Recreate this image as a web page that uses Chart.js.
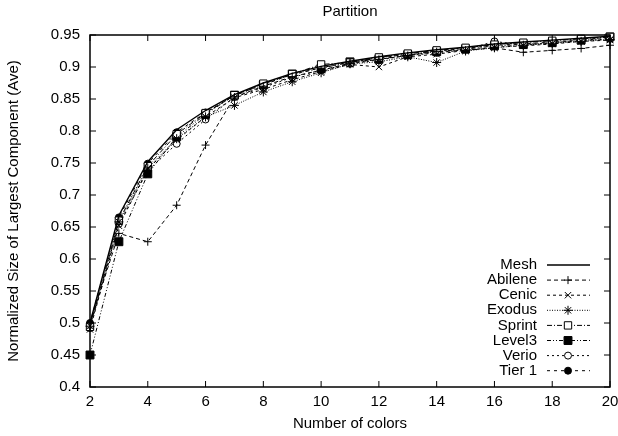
<!DOCTYPE html>
<html>
<head>
<meta charset="utf-8">
<title>Partition</title>
<script src="https://cdn.jsdelivr.net/npm/chart.js@4"></script>
<style>
  html, body { margin: 0; padding: 0; background: #fff; }
</style>
</head>
<body>
<canvas id="canvas" width="618" height="436"></canvas>
<script>
// number of colors on the x axis
const colors = [2, 3, 4, 5, 6, 7, 8, 9, 10, 11, 12, 13, 14, 15, 16, 17, 18, 19, 20];

const mesh    = [0.500, 0.668, 0.752, 0.802, 0.832, 0.857, 0.875, 0.890, 0.901, 0.909, 0.916, 0.922, 0.927, 0.931, 0.936, 0.939, 0.942, 0.945, 0.948];
const abilene = [0.500, 0.640, 0.627, 0.684, 0.778, 0.853, 0.870, 0.885, 0.895, 0.906, 0.912, 0.918, 0.924, 0.926, 0.930, 0.923, 0.926, 0.929, 0.934];
const cenic   = [0.490, 0.652, 0.740, 0.786, 0.822, 0.852, 0.865, 0.880, 0.893, 0.904, 0.900, 0.916, 0.920, 0.926, 0.931, 0.933, 0.936, 0.940, 0.942];
const exodus  = [0.495, 0.658, 0.742, 0.788, 0.822, 0.840, 0.861, 0.877, 0.891, 0.905, 0.908, 0.916, 0.907, 0.925, 0.930, 0.934, 0.937, 0.940, 0.943];
const sprint  = [0.494, 0.660, 0.745, 0.795, 0.828, 0.856, 0.874, 0.889, 0.904, 0.907, 0.915, 0.921, 0.926, 0.930, 0.935, 0.938, 0.941, 0.944, 0.947];
const level3  = [0.450, 0.627, 0.733, 0.791, 0.826, 0.856, 0.872, 0.889, 0.898, 0.908, 0.912, 0.919, 0.924, 0.928, 0.933, 0.935, 0.938, 0.942, 0.947];
const verio   = [0.492, 0.655, 0.738, 0.780, 0.818, 0.853, 0.868, 0.884, 0.895, 0.905, 0.911, 0.918, 0.922, 0.927, 0.940, 0.934, 0.938, 0.941, 0.944];
const tier1   = [0.500, 0.665, 0.749, 0.798, 0.829, 0.855, 0.873, 0.888, 0.899, 0.907, 0.914, 0.920, 0.925, 0.929, 0.934, 0.936, 0.939, 0.942, 0.945];

const xTicks = [2, 4, 6, 8, 10, 12, 14, 16, 18, 20];
const yTicks = [0.4, 0.45, 0.5, 0.55, 0.6, 0.65, 0.7, 0.75, 0.8, 0.85, 0.9, 0.95];

Chart.defaults.font.family = "'Liberation Sans', Arial, Helvetica, sans-serif";
Chart.defaults.font.size = 15;
Chart.defaults.color = '#000';

function series(label, values, dash, style, radius, fill, width) {
  return {
    label: label,
    data: values.map((v, i) => ({ x: colors[i], y: v })),
    borderColor: '#000',
    borderWidth: width || 1,
    borderDash: dash,
    pointStyle: style,
    pointRadius: radius,
    pointHoverRadius: radius,
    pointBorderColor: '#000',
    pointBorderWidth: 1,
    pointBackgroundColor: fill,
    tension: 0,
    clip: false,
    fill: false,
  };
}

const datasets = [
  series('Mesh',    mesh,    [],              'circle',   0,   '#000', 1.4),
  series('Abilene', abilene, [4, 3],          'cross',    4,   '#000'),
  series('Cenic',   cenic,   [3, 3],          'crossRot', 4.5, '#000'),
  series('Exodus',  exodus,  [1, 1.5],        'star',     4.5, '#000'),
  series('Sprint',  sprint,  [5, 2, 1, 2],    'rect',     5.2, '#fff'),
  series('Level3',  level3,  [4, 2, 1, 2, 1, 2], 'rect',  5.6, '#000'),
  series('Verio',   verio,   [2, 3],          'circle',   3.5, '#fff'),
  series('Tier 1',  tier1,   [3, 4],          'circle',   3.5, '#000'),
];

// gnuplot-style frame: border box, inward ticks on all sides, key in the lower right
const frame = {
  id: 'frame',
  afterDatasetsDraw(chart) {
    const { ctx, chartArea: a, scales } = chart;
    ctx.save();
    ctx.strokeStyle = '#000';
    ctx.setLineDash([]);
    ctx.lineWidth = 1;
    ctx.beginPath();
    xTicks.forEach(v => {
      const x = scales.x.getPixelForValue(v);
      ctx.moveTo(x, a.bottom); ctx.lineTo(x, a.bottom - 6);
      ctx.moveTo(x, a.top); ctx.lineTo(x, a.top + 6);
    });
    yTicks.forEach(v => {
      const y = scales.y.getPixelForValue(v);
      ctx.moveTo(a.left, y); ctx.lineTo(a.left + 6, y);
      ctx.moveTo(a.right, y); ctx.lineTo(a.right - 6, y);
    });
    ctx.stroke();
    ctx.lineWidth = 1.5;
    ctx.strokeRect(a.left, a.top, a.right - a.left, a.bottom - a.top);

    // key
    ctx.font = "15px 'Liberation Sans', Arial, sans-serif";
    ctx.textAlign = 'right';
    ctx.textBaseline = 'middle';
    ctx.fillStyle = '#000';
    chart.data.datasets.forEach((ds, i) => {
      const y = a.bottom - 122 + i * 15.1;
      ctx.fillText(ds.label, a.right - 73, y);
      ctx.lineWidth = ds.borderWidth;
      ctx.setLineDash(ds.borderDash);
      ctx.beginPath();
      ctx.moveTo(a.right - 63, y);
      ctx.lineTo(a.right - 20, y);
      ctx.stroke();
      ctx.setLineDash([]);
      if (ds.pointRadius > 0) {
        ctx.lineWidth = 1;
        ctx.fillStyle = ds.pointBackgroundColor;
        Chart.helpers.drawPoint(ctx, { pointStyle: ds.pointStyle, radius: ds.pointRadius, rotation: 0, borderWidth: 1 }, a.right - 42, y);
        ctx.fillStyle = '#000';
      }
    });
    ctx.restore();
  }
};

const config = {
  type: 'line',
  data: { datasets: datasets },
  options: {
    responsive: false,
    animation: false,
    devicePixelRatio: 1,
    layout: { padding: { left: 0, right: 8, top: 0, bottom: 0 } },
    plugins: {
      legend: { display: false },
      tooltip: { enabled: false },
      title: {
        display: true,
        text: 'Partition',
        fullSize: false,
        font: { size: 15, weight: 'normal' },
        padding: { top: 3, bottom: 14 },
      },
    },
    scales: {
      x: {
        type: 'linear',
        min: 2,
        max: 20,
        grid: { display: false, drawTicks: false },
        border: { display: false },
        afterBuildTicks: s => { s.ticks = xTicks.map(v => ({ value: v })); },
        afterFit: s => { s.height = 49; s.paddingLeft = 0; s.paddingRight = 0; },
        ticks: { padding: 6, maxRotation: 0, callback: v => String(v) },
        title: { display: true, text: 'Number of colors', padding: { top: 0, bottom: 3 } },
      },
      y: {
        type: 'linear',
        min: 0.4,
        max: 0.95,
        grid: { display: false, drawTicks: false },
        border: { display: false },
        afterBuildTicks: s => { s.ticks = yTicks.map(v => ({ value: v })); },
        afterFit: s => { s.width = 90; },
        ticks: { padding: 10, callback: v => String(parseFloat(v.toFixed(2))) },
        title: { display: true, text: 'Normalized Size of Largest Component (Ave)', padding: { top: 5, bottom: 0 } },
      },
    },
  },
  plugins: [frame],
};

const canvas = document.getElementById('canvas');
const chart = new Chart(canvas, config);
</script>
</body>
</html>
